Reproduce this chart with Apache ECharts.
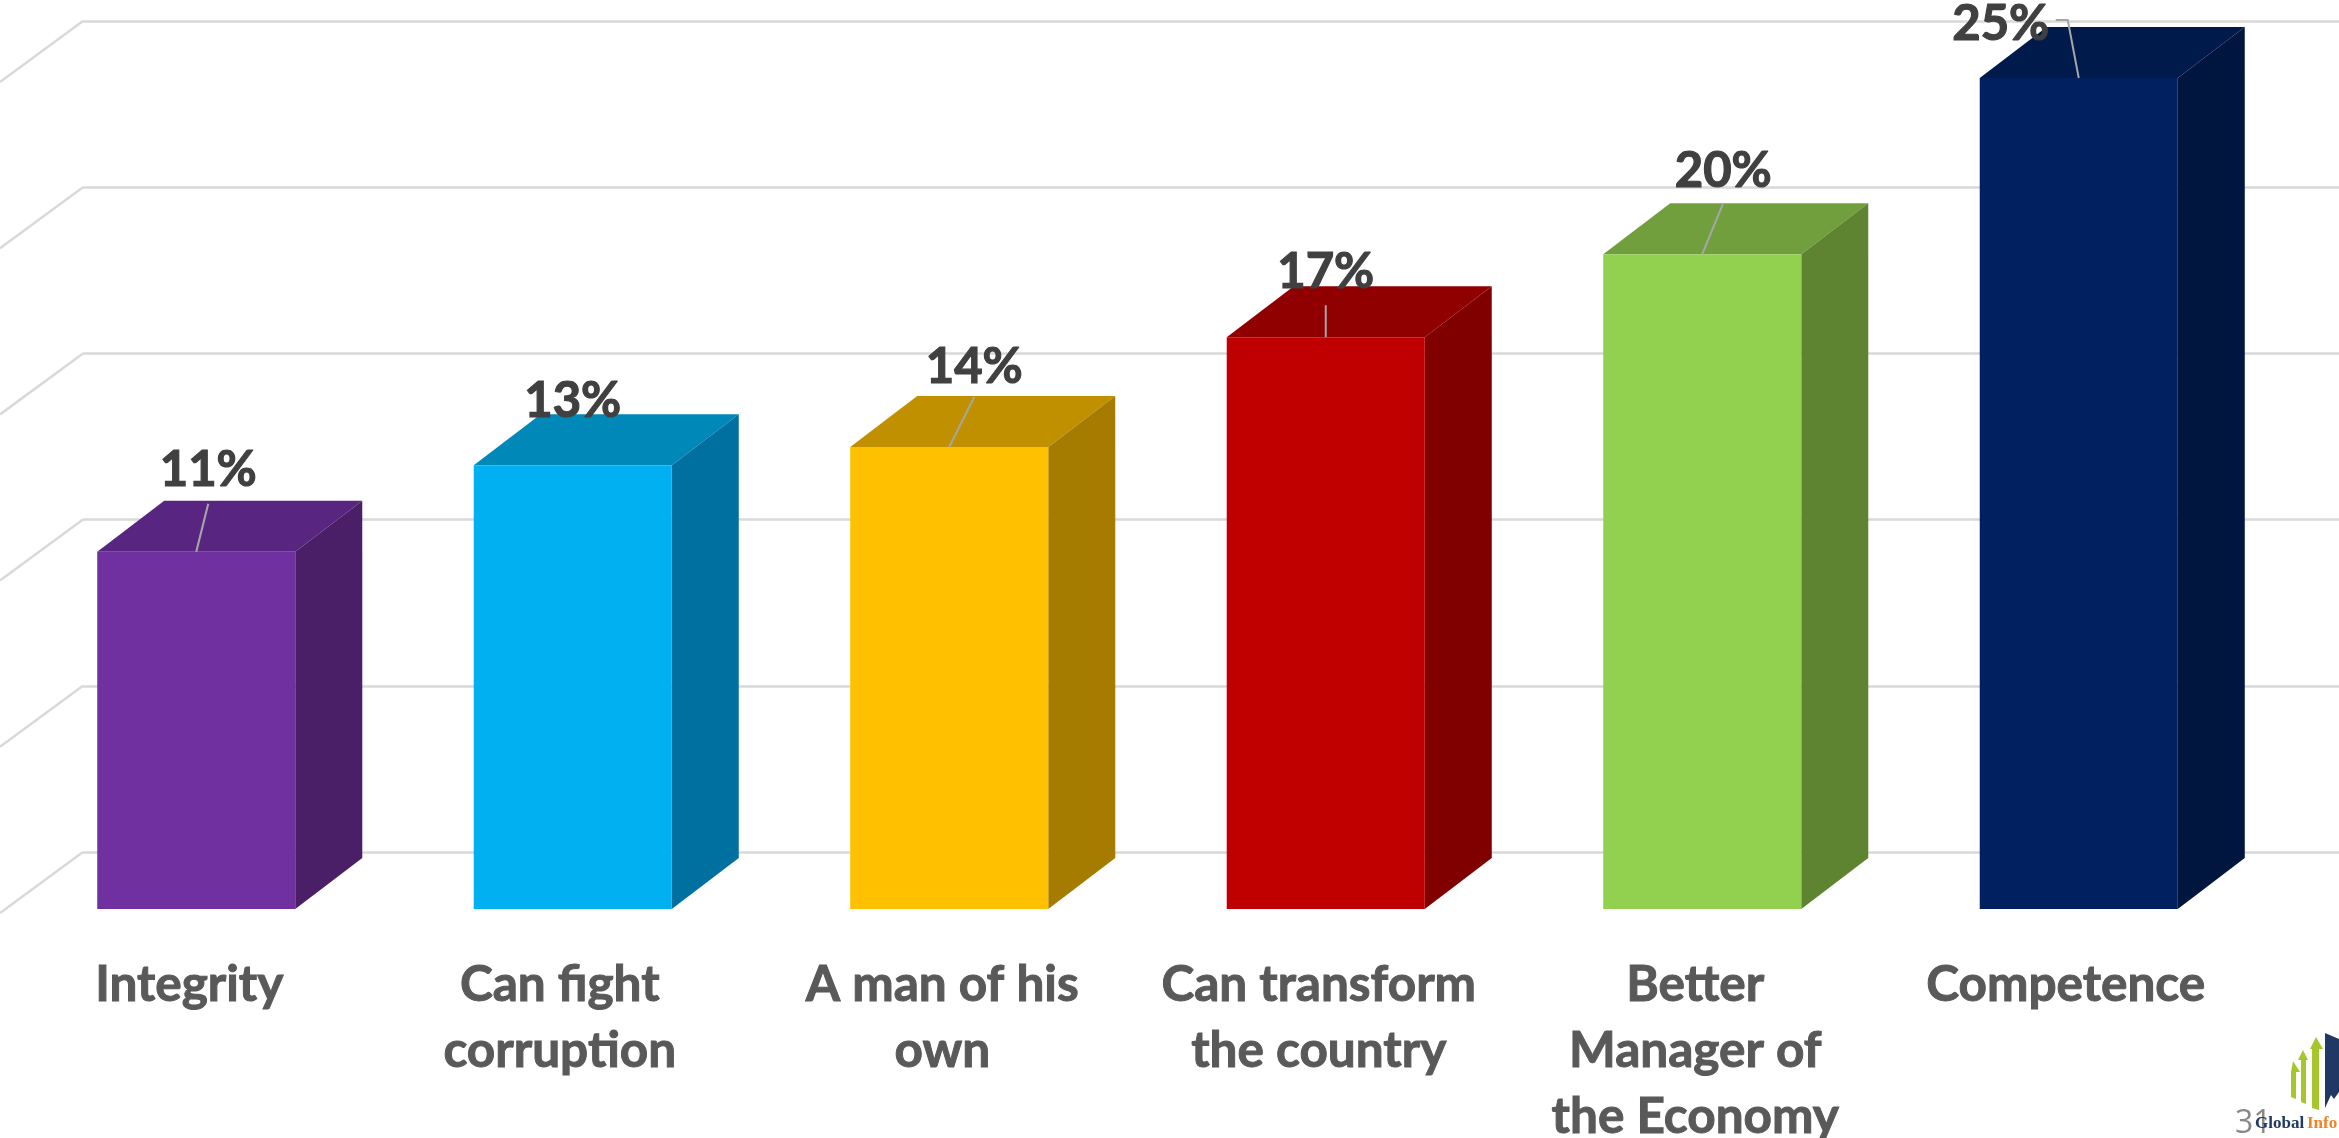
<!DOCTYPE html>
<html>
<head>
<meta charset="utf-8">
<title>Chart</title>
<style>
  html, body { margin: 0; padding: 0; background: #fff; }
  #main { width: 2339px; height: 1138px; }
</style>
<script src="https://cdn.jsdelivr.net/npm/echarts@6/dist/echarts.min.js"></script>
</head>
<body>
<div id="main"></div>
<script>
const categories = ['Integrity', 'Can fight\ncorruption', 'A man of his\nown', 'Can transform\nthe country', 'Better\nManager of\nthe Economy', 'Competence']
const values = [10.75, 13.35, 13.9, 17.2, 19.7, 25]
const yTicks = [0, 5, 10, 15, 20, 25]

const frontColors = ['#7030A0', '#00B0F0', '#FFC000', '#C00000', '#92D050', '#002060']
const topColors = ['#582680', '#0088B8', '#C09000', '#900000', '#719F3E', '#001A4B']
const sideColors = ['#4A1F68', '#0070A0', '#A67C00', '#800000', '#5E8432', '#00163F']

// data label and leader line placement, px from the middle of the bar's front top edge
const labelShift = [[12, -81], [0, -64], [25, -80], [0, -65], [21, -83], [-78, -54]]
const leaders = [[[12, -48]], [], [[25, -50]], [[0, -32]], [[21, -51]], [[-11, -58], [-23, -58]]]
// axis labels sit a little left of their bars
const labelPad = [14, 26, 14, 14, 14, 26]

const depthX = 67
const depthY = 51

const chart = echarts.init(document.getElementById('main'))

function renderBar(params, api) {
  const i = params.dataIndex
  const base = api.coord([i, 0])
  const head = api.coord([i, api.value(1)])
  const w = api.size([1, 0])[0] * 0.526
  const l = base[0] - w / 2
  const r = base[0] + w / 2
  const children = [
    { type: 'polygon', shape: { points: [[l, head[1]], [l + depthX, head[1] - depthY], [r + depthX, head[1] - depthY], [r, head[1]]] }, style: { fill: topColors[i] } },
    { type: 'polygon', shape: { points: [[r, head[1]], [r + depthX, head[1] - depthY], [r + depthX, base[1] - depthY], [r, base[1]]] }, style: { fill: sideColors[i] } },
    { type: 'rect', shape: { x: l, y: head[1], width: w, height: base[1] - head[1] }, style: { fill: frontColors[i] } }
  ]
  if (leaders[i].length) {
    children.push({
      type: 'polyline',
      shape: { points: [[head[0], head[1]]].concat(leaders[i].map(p => [head[0] + p[0], head[1] + p[1]])) },
      style: { fill: 'none', stroke: '#A6A6A6', lineWidth: 2 }
    })
  }
  children.push({
    type: 'text',
    style: {
      x: head[0] + labelShift[i][0],
      y: head[1] + labelShift[i][1],
      text: Math.round(api.value(1)) + '%',
      fill: '#404040',
      stroke: '#404040',
      lineWidth: 1.2,
      font: 'bold 49px Lato',
      align: 'center',
      verticalAlign: 'middle'
    }
  })
  return { type: 'group', children: children }
}

function renderWall(params, api) {
  const p = api.coord([0, api.value(0)])
  return {
    type: 'line',
    shape: { x1: p[0], y1: p[1], x2: 0, y2: p[1] + 61 },
    style: { stroke: '#D9D9D9', lineWidth: 2.5 }
  }
}

chart.setOption({
  animation: false,
  backgroundColor: '#fff',
  grid: [
    { left: 8, top: 78, width: 2259, height: 831, outerBoundsMode: 'none' },
    { left: 83, top: 21, right: 0, height: 831, outerBoundsMode: 'none' }
  ],
  xAxis: [
    {
      type: 'category',
      gridIndex: 0,
      data: categories.map((c, i) => ({ value: c, textStyle: { padding: [0, labelPad[i], 0, 0] } })),
      axisLine: { show: false },
      axisTick: { show: false },
      axisLabel: {
        interval: 0,
        margin: 43,
        fontFamily: 'Lato',
        fontWeight: 'bold',
        fontSize: 49.5,
        lineHeight: 66,
        color: '#595959',
        textBorderColor: '#595959',
        textBorderWidth: 1
      }
    },
    { type: 'value', gridIndex: 1, min: 0, max: 1, show: false }
  ],
  yAxis: [
    { type: 'value', gridIndex: 0, min: 0, max: 25, interval: 5, show: false },
    {
      type: 'value',
      gridIndex: 1,
      min: 0,
      max: 25,
      interval: 5,
      axisLine: { show: false },
      axisTick: { show: false },
      axisLabel: { show: false },
      splitLine: { show: true, lineStyle: { color: '#D9D9D9', width: 2.5 } }
    }
  ],
  series: [
    {
      type: 'custom',
      xAxisIndex: 1,
      yAxisIndex: 1,
      clip: false,
      silent: true,
      z: 1,
      encode: { x: null, y: 0 },
      data: yTicks.map(v => [v]),
      renderItem: renderWall
    },
    {
      type: 'custom',
      xAxisIndex: 0,
      yAxisIndex: 0,
      clip: false,
      z: 3,
      encode: { x: 0, y: 1 },
      data: values.map((v, i) => [i, v]),
      renderItem: renderBar
    }
  ],
  graphic: [
    { type: 'text', left: 2235, top: 1108, z: 5, style: { text: '31', fill: '#898989', font: '32px "Open Sans"' } },
    // logo in the corner
    { type: 'polygon', z: 5, shape: { points: [[2291, 1072], [2293, 1061], [2300, 1072], [2296, 1072], [2296, 1099], [2291, 1097]] }, style: { fill: '#A6C72B' } },
    { type: 'polygon', z: 5, shape: { points: [[2298, 1060], [2303, 1050], [2308, 1060], [2306, 1060], [2306, 1104], [2301, 1102], [2301, 1060]] }, style: { fill: '#A6C72B' } },
    { type: 'polygon', z: 5, shape: { points: [[2310, 1049], [2316, 1037], [2323, 1049], [2319, 1049], [2319, 1110], [2312, 1108], [2312, 1049]] }, style: { fill: '#A6C72B' } },
    { type: 'polygon', z: 5, shape: { points: [[2325, 1033], [2339, 1039], [2339, 1092], [2334, 1099], [2331, 1095], [2325, 1108], [2325, 1112]] }, style: { fill: '#1F3864' } },
    { type: 'text', left: 2255, top: 1115, z: 6, style: { text: 'Global', fill: '#1F3864', font: 'bold 17px "Liberation Serif"' } },
    { type: 'text', left: 2307, top: 1115, z: 6, style: { text: 'Info', fill: '#F58220', font: 'bold 17px "Liberation Serif"' } }
  ]
})
</script>
</body>
</html>
